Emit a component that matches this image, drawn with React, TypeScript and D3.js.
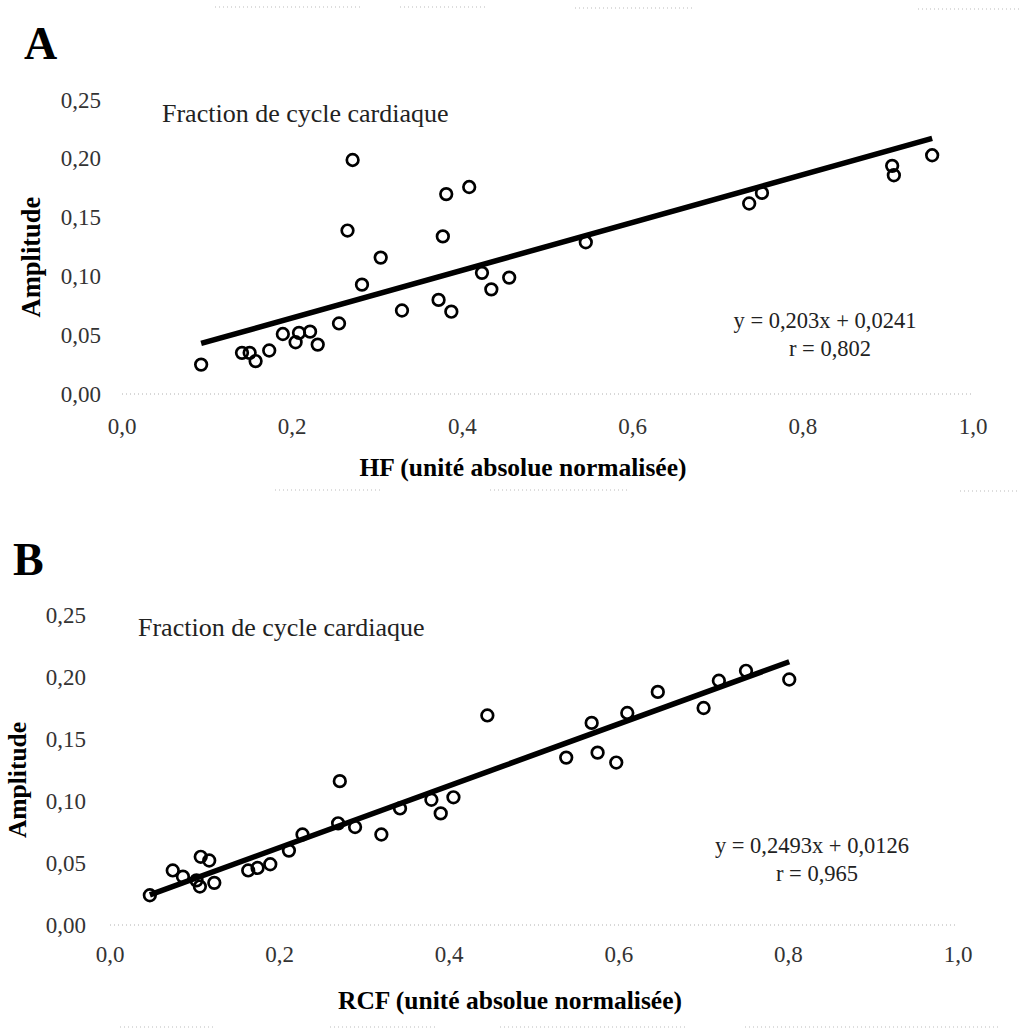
import React from "react";
import * as d3 from "d3";

// ---- Data ----
const hfX = [0.093, 0.141, 0.150, 0.157, 0.173, 0.189, 0.204, 0.208, 0.221, 0.230, 0.255, 0.265, 0.271, 0.282, 0.304, 0.329, 0.372, 0.377, 0.381, 0.387, 0.408, 0.423, 0.434, 0.455, 0.545, 0.737, 0.752, 0.905, 0.907, 0.952];
const hfY = [0.025, 0.035, 0.035, 0.028, 0.037, 0.051, 0.044, 0.052, 0.053, 0.042, 0.060, 0.139, 0.199, 0.093, 0.116, 0.071, 0.080, 0.134, 0.170, 0.070, 0.176, 0.103, 0.089, 0.099, 0.129, 0.162, 0.171, 0.194, 0.186, 0.203];

const rcfX = [0.047, 0.074, 0.086, 0.102, 0.107, 0.117, 0.106, 0.123, 0.163, 0.174, 0.189, 0.211, 0.227, 0.269, 0.271, 0.289, 0.320, 0.342, 0.379, 0.390, 0.405, 0.445, 0.538, 0.568, 0.575, 0.597, 0.610, 0.646, 0.700, 0.718, 0.750, 0.801];
const rcfY = [0.024, 0.044, 0.039, 0.036, 0.055, 0.052, 0.031, 0.034, 0.044, 0.046, 0.049, 0.060, 0.073, 0.082, 0.116, 0.079, 0.073, 0.094, 0.101, 0.090, 0.103, 0.169, 0.135, 0.163, 0.139, 0.131, 0.171, 0.188, 0.175, 0.197, 0.205, 0.198];

const xTicks = [0, 0.2, 0.4, 0.6, 0.8, 1.0];
const yTicks = [0, 0.05, 0.1, 0.15, 0.2, 0.25];

const fitA = { slope: 0.203, intercept: 0.0241, r: "0,802" };
const fitB = { slope: 0.2493, intercept: 0.0126, r: "0,965" };

// faint scan-artifact dotted rules seen in the reference (page decoration)
const scanRules: { y: number; x1: number; x2: number }[] = [
  { y: 7, x1: 215, x2: 360 },
  { y: 7, x1: 400, x2: 485 },
  { y: 8, x1: 575, x2: 695 },
  { y: 9, x1: 918, x2: 1020 },
  { y: 490, x1: 275, x2: 380 },
  { y: 490, x1: 490, x2: 630 },
  { y: 491, x1: 960, x2: 1020 },
  { y: 1027, x1: 120, x2: 215 },
  { y: 1027, x1: 330, x2: 435 },
  { y: 1027, x1: 500, x2: 685 },
  { y: 1027, x1: 745, x2: 1000 },
];

const FONT = "'Liberation Serif', 'Times New Roman', serif";

const fmtX = (v: number) => v.toFixed(1).replace(".", ",");
const fmtY = (v: number) => v.toFixed(2).replace(".", ",");
const fmtNum = (v: number, d: number) => v.toFixed(d).replace(".", ",");

type PanelProps = {
  label: string;
  labelX: number;
  labelY: number;
  xs: number[];
  ys: number[];
  fit: { slope: number; intercept: number; r: string };
  slopeDigits: number;
  xRange: [number, number];
  yRange: [number, number];
  yLabelRight: number;
  xLabelY: number;
  titleX: number;
  titleY: number;
  ampX: number;
  ampY: number;
  ampSize: number;
  xTitle: string;
  xTitleX: number;
  xTitleY: number;
  eqX: number;
  eqY: number;
};

function Panel(p: PanelProps) {
  const x = d3.scaleLinear().domain([0, 1]).range(p.xRange);
  const y = d3.scaleLinear().domain([0, 0.25]).range(p.yRange);
  const xmin = d3.min(p.xs) as number;
  const xmax = d3.max(p.xs) as number;
  const line = d3
    .line<number>()
    .x((v) => x(v))
    .y((v) => y(p.fit.slope * v + p.fit.intercept));
  const pts = p.xs.map((v, i) => ({ x: v, y: p.ys[i] }));
  return (
    <g fontFamily={FONT}>
      <text x={p.labelX} y={p.labelY} fontSize={46} fontWeight="bold" fill="#000">
        {p.label}
      </text>
      {/* x axis (faint dotted) */}
      <line
        x1={x(0)}
        x2={x(1)}
        y1={y(0)}
        y2={y(0)}
        stroke="#b0b0b0"
        strokeWidth={1}
        strokeDasharray="1,3"
      />
      {yTicks.map((t) => (
        <text
          key={"y" + t}
          x={p.yLabelRight}
          y={y(t)}
          fontSize={23}
          textAnchor="end"
          dominantBaseline="central"
          fill="#333"
        >
          {fmtY(t)}
        </text>
      ))}
      {xTicks.map((t) => (
        <text
          key={"x" + t}
          x={x(t)}
          y={p.xLabelY}
          fontSize={23}
          textAnchor="middle"
          fill="#333"
        >
          {fmtX(t)}
        </text>
      ))}
      <text x={p.titleX} y={p.titleY} fontSize={26} dominantBaseline="central" fill="#222">
        Fraction de cycle cardiaque
      </text>
      <text
        transform={`translate(${p.ampX},${p.ampY}) rotate(-90)`}
        fontSize={p.ampSize}
        fontWeight="bold"
        textAnchor="middle"
        dominantBaseline="central"
        fill="#000"
      >
        Amplitude
      </text>
      <text
        x={p.xTitleX}
        y={p.xTitleY}
        fontSize={25.5}
        fontWeight="bold"
        textAnchor="middle"
        dominantBaseline="central"
        fill="#000"
      >
        {p.xTitle}
      </text>
      {pts.map((d, i) => (
        <circle
          key={i}
          cx={x(d.x)}
          cy={y(d.y)}
          r={5.8}
          fill="none"
          stroke="#000"
          strokeWidth={2.7}
        />
      ))}
      <path d={line([xmin, xmax]) as string} stroke="#000" strokeWidth={5.5} fill="none" />
      <text x={p.eqX} y={p.eqY} fontSize={22.5} textAnchor="middle" dominantBaseline="central" fill="#222">
        {`y = ${fmtNum(p.fit.slope, p.slopeDigits)}x + ${fmtNum(p.fit.intercept, 4)}`}
      </text>
      <text x={p.eqX + 5} y={p.eqY + 28} fontSize={22.5} textAnchor="middle" dominantBaseline="central" fill="#222">
        {`r = ${p.fit.r}`}
      </text>
    </g>
  );
}

export default function App() {
  return (
    <svg
      width={1023}
      height={1033}
      style={{ position: "absolute", left: 0, top: 0, background: "#fff" }}
    >
      <rect width={1023} height={1033} fill="#fff" />
      {scanRules.map((s, i) => (
        <line
          key={"s" + i}
          x1={s.x1}
          x2={s.x2}
          y1={s.y}
          y2={s.y}
          stroke="#bbb"
          strokeWidth={1}
          strokeDasharray="1,3"
        />
      ))}
      <Panel
        label="A"
        labelX={24}
        labelY={59}
        xs={hfX}
        ys={hfY}
        fit={fitA}
        slopeDigits={3}
        xRange={[122, 973]}
        yRange={[394, 100]}
        yLabelRight={101}
        xLabelY={434}
        titleX={162}
        titleY={113}
        ampX={31}
        ampY={257}
        ampSize={26.5}
        xTitle="HF (unité absolue normalisée)"
        xTitleX={523}
        xTitleY={467}
        eqX={825}
        eqY={320}
      />
      <Panel
        label="B"
        labelX={13}
        labelY={575}
        xs={rcfX}
        ys={rcfY}
        fit={fitB}
        slopeDigits={4}
        xRange={[110, 958]}
        yRange={[925, 615]}
        yLabelRight={86}
        xLabelY={962}
        titleX={138}
        titleY={627}
        ampX={17}
        ampY={780}
        ampSize={25.5}
        xTitle="RCF (unité absolue normalisée)"
        xTitleX={510}
        xTitleY={1000}
        eqX={812}
        eqY={845}
      />
    </svg>
  );
}
